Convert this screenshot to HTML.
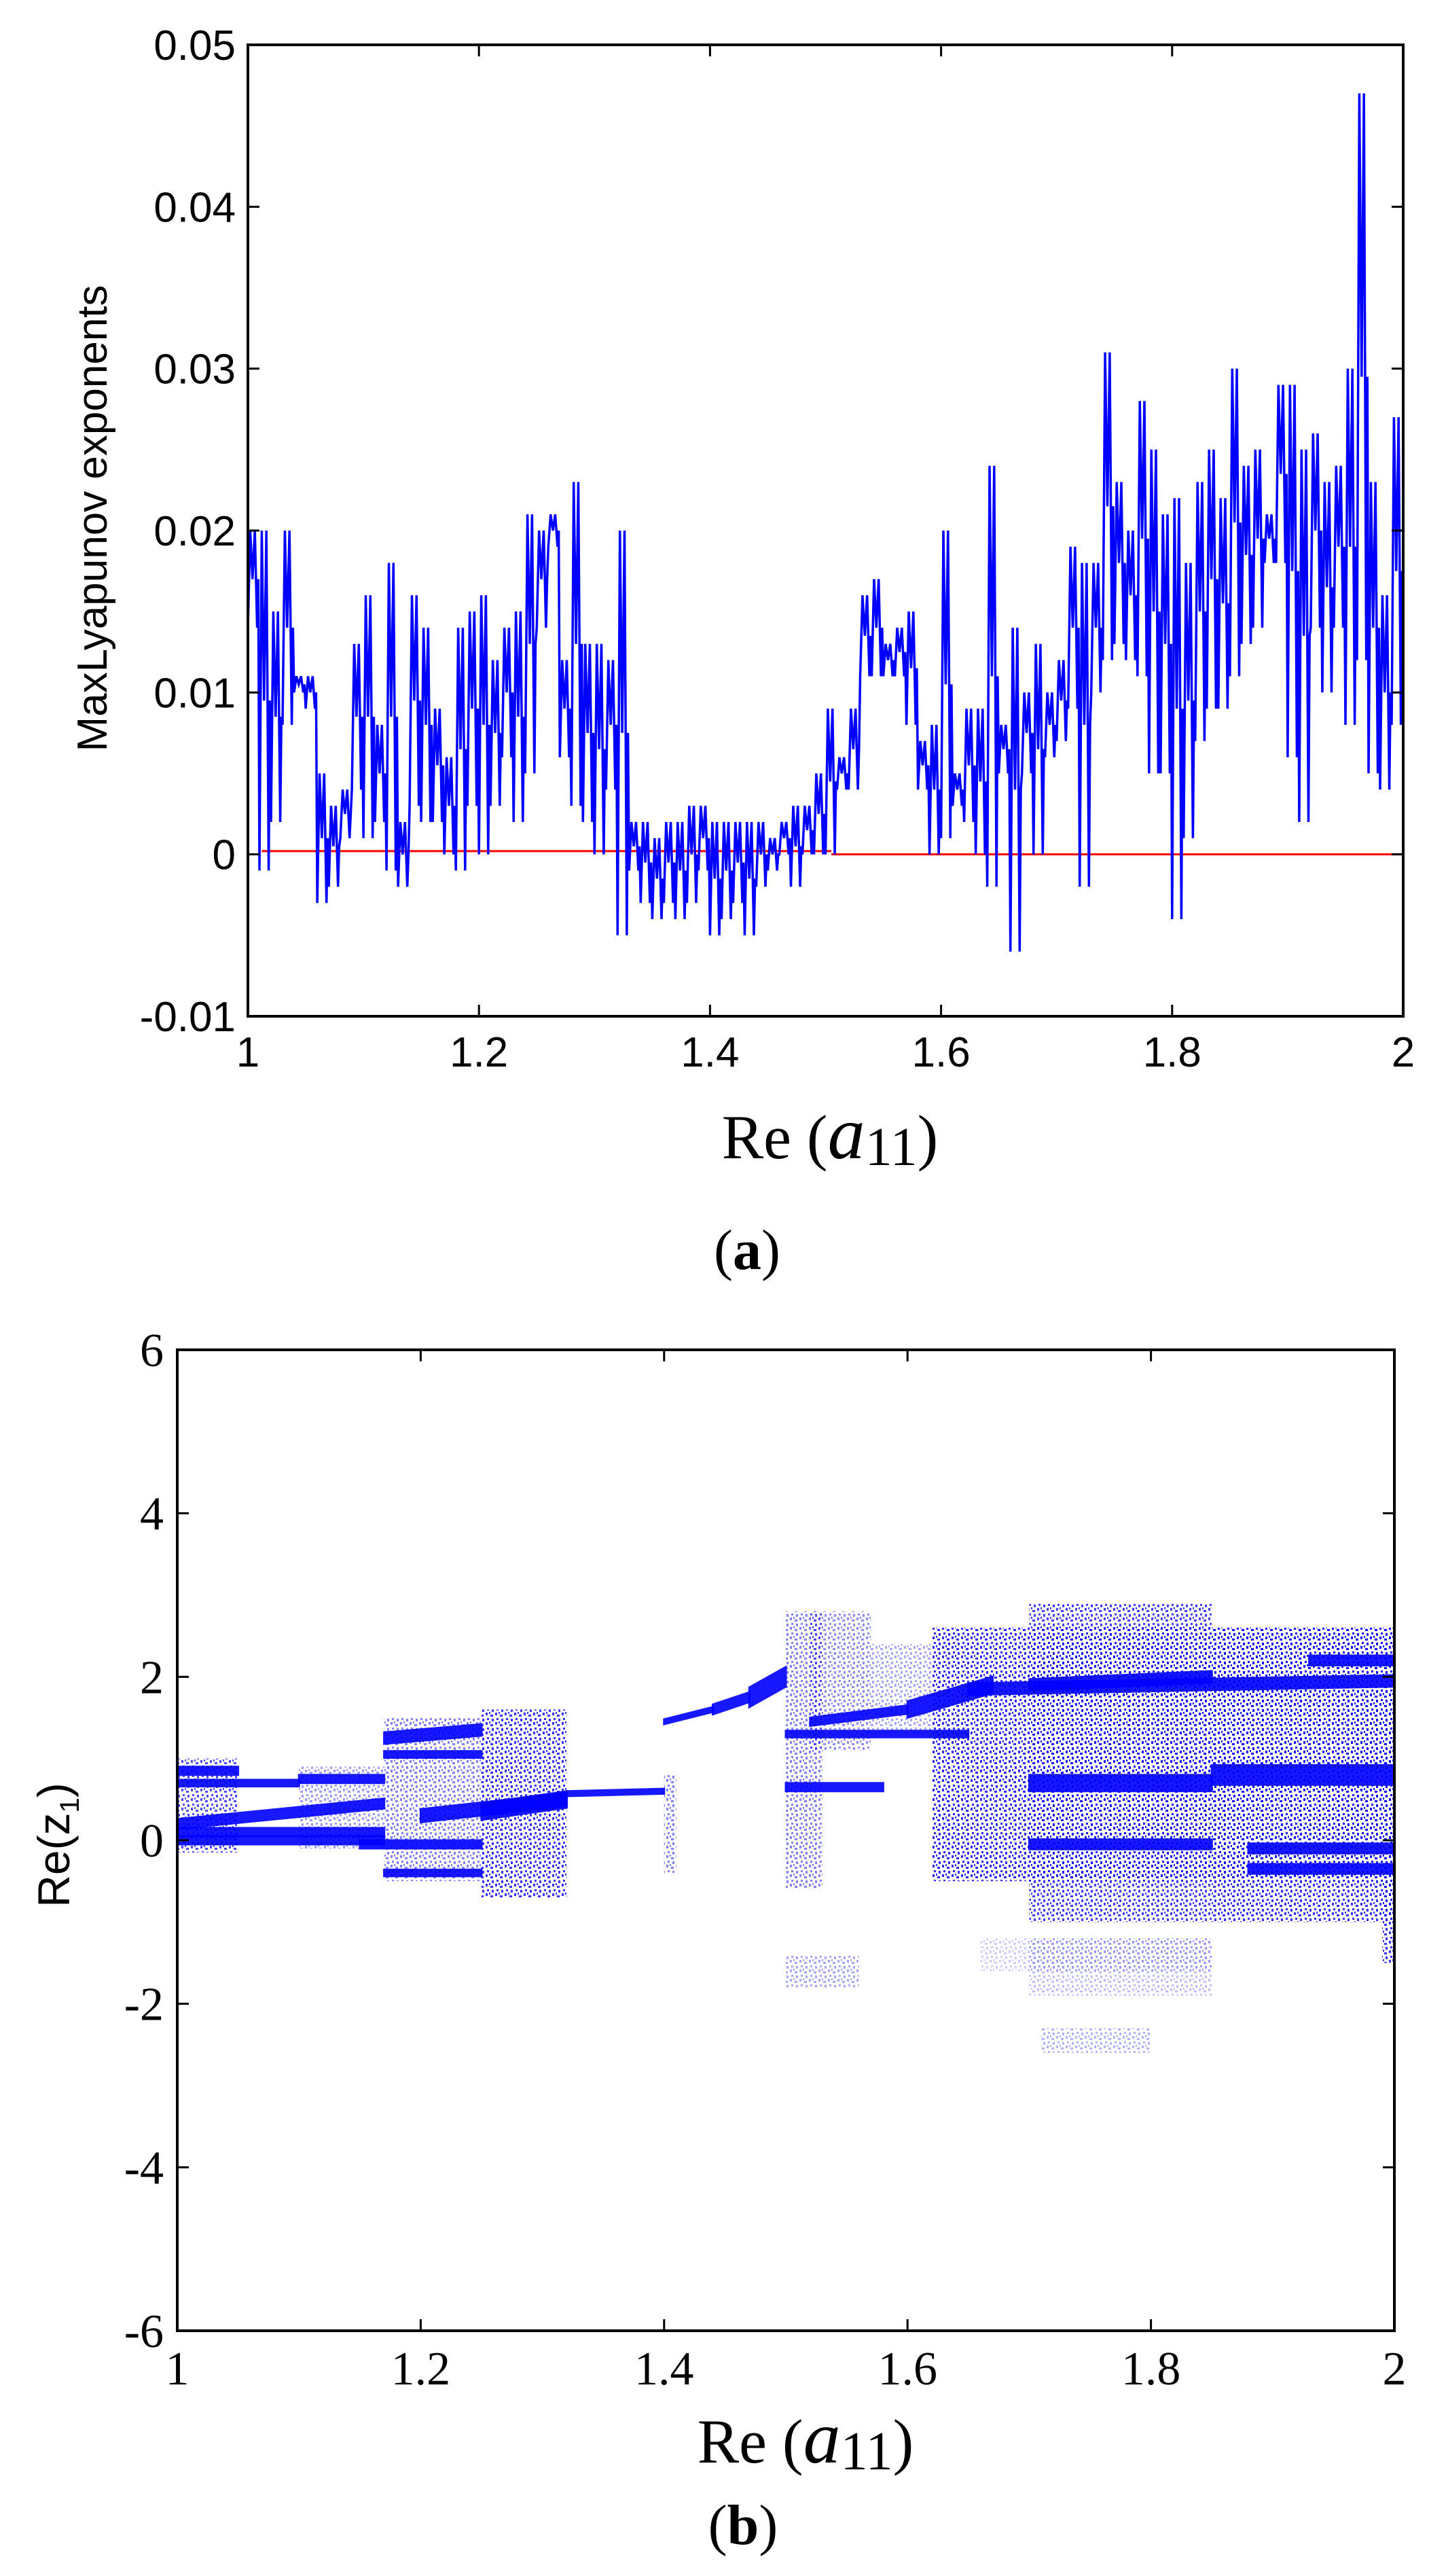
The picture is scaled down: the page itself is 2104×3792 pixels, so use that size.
<!DOCTYPE html>
<html><head><meta charset="utf-8"><style>
html,body{margin:0;padding:0;background:#fff;}
svg{display:block;}
</style></head><body>
<svg id="fig" width="2104" height="3792" viewBox="0 0 2104 3792" xmlns="http://www.w3.org/2000/svg">
<defs>
<pattern id="stip" width="14" height="14" patternUnits="userSpaceOnUse">
<rect x="1" y="1" width="3" height="4" fill="#0000ff"/><rect x="8" y="4" width="4" height="3" fill="#0000ff"/>
<rect x="3" y="9" width="3" height="3" fill="#0000ff"/><rect x="10" y="10" width="3" height="4" fill="#0000ff"/>
<rect x="6" y="0" width="2" height="3" fill="#0000ff"/>
</pattern>
</defs>
<g id="pa"></g>
<g id="pb"></g>
<text x="1100" y="1868" font-family="Liberation Serif, serif" font-size="84" text-anchor="middle">(<tspan font-weight="bold">a</tspan>)</text>
<text x="1094" y="3745" font-family="Liberation Serif, serif" font-size="84" text-anchor="middle">(<tspan font-weight="bold">b</tspan>)</text>
</svg>
<script>
// ---- chart (a) data ----
const aBinStart = 1.0;
const aBinWidth = 0.01;
const aHigh = [20,20,15,20,11,11,5,3,4,13,16,8,18,2,16,14,9,6,14,15,16,12,14,15,21,20,21,12,23,13,13,12,20,2,2,1,2,2,3,3,2,2,2,2,2,1,2,3,3,5,9,6,9,16,17,13,14,15,7,8,20,5,9,9,24,8,14,10,13,10,12,19,18,18,31,23,20,28,25,21,22,18,23,25,22,30,24,25,21,29,29,25,26,23,24,30,47,23,16,27];
const aLow  = [14,-1,2,8,10,9,-3,-2,1,4,1,2,-1,-2,3,2,2,0,-1,3,0,3,6,2,5,14,19,6,3,2,0,4,-5,-1,-3,-4,-3,-4,-3,-1,-5,-4,-3,-5,-2,-1,0,-2,0,0,0,4,4,11,11,11,11,8,4,0,1,3,2,0,-2,5,-6,5,0,6,7,9,-2,10,12,13,12,11,5,5,-4,1,7,9,9,11,13,14,18,18,6,2,14,10,14,8,12,5,4,8];
const aYTicks = [-0.01,0,0.01,0.02,0.03,0.04,0.05];
const aYTickLabels = ["-0.01","0","0.01","0.02","0.03","0.04","0.05"];
const aXTicks = [1,1.2,1.4,1.6,1.8,2];
const aXTickLabels = ["1","1.2","1.4","1.6","1.8","2"];
const aRefX0 = [1.012,1.505];
const aRefX1 = [1.505,2.0];
const aRefY  = [0.0002,0];

// ---- chart (b) data ----
const bYTicks = [-6,-4,-2,0,2,4,6];
const bYTickLabels = ["-6","-4","-2","0","2","4","6"];
const bXTicks = [1,1.2,1.4,1.6,1.8,2];
const bXTickLabels = ["1","1.2","1.4","1.6","1.8","2"];
// stippled attractor regions
const cloudX0 = [1.00,1.10,1.17,1.25,1.50,1.52,1.57,1.62,1.70,1.62,1.70,1.85,1.50,1.66,1.71,1.40,1.99];
const cloudX1 = [1.05,1.17,1.25,1.32,1.53,1.57,1.62,1.70,1.85,2.00,1.85,2.00,1.56,1.85,1.80,1.41,2.00];
const cloudY0 = [-0.15,-0.1,-0.5,-0.7,-0.6,1.1,1.3,-0.5,-1.0,-0.5,-1.9,-1.0,-1.8,-1.6,-2.6,-0.4,-1.5];
const cloudY1 = [1.0,0.9,1.5,1.6,2.8,2.8,2.4,2.6,2.9,2.6,-1.2,2.6,-1.4,-1.2,-2.3,0.8,2.5];
const cloudD  = [0.7,0.4,0.5,0.8,0.5,0.45,0.35,0.45,0.75,0.7,0.25,0.8,0.35,0.2,0.3,0.5,0.8];
// dense branches (x0,x1,y0,y1,half-spread)
const brX0 = [1.00,1.00,1.00,1.00,1.00,1.10,1.15,1.17,1.17,1.17,1.20,1.25,1.32,1.40,1.44,1.47,1.52,1.60,1.50,1.50,1.65,1.70,1.70,1.85,1.88,1.93,1.70,1.88];
const brX1 = [1.05,1.10,1.17,1.17,1.17,1.17,1.25,1.25,1.25,1.25,1.32,1.32,1.40,1.44,1.47,1.50,1.60,1.67,1.58,1.65,2.00,1.85,1.85,2.00,2.00,2.00,1.85,2.00];
const brY0 = [0.85,0.7,0.2,0.1,0.0,0.75,-0.05,1.25,1.05,-0.4,0.3,0.35,0.57,1.45,1.6,1.75,1.45,1.6,0.65,1.3,1.85,0.7,-0.05,0.8,-0.1,2.2,1.9,-0.35];
const brY1 = [0.85,0.7,0.45,0.1,0.0,0.75,-0.05,1.35,1.05,-0.4,0.5,0.5,0.6,1.6,1.75,2.0,1.6,1.9,0.65,1.3,1.95,0.7,-0.05,0.8,-0.1,2.2,2.0,-0.35];
const brS  = [0.05,0.04,0.06,0.05,0.05,0.05,0.05,0.07,0.04,0.04,0.08,0.1,0.03,0.03,0.06,0.12,0.05,0.1,0.05,0.04,0.07,0.1,0.06,0.12,0.06,0.06,0.07,0.06];

const NS = "http://www.w3.org/2000/svg";
function mk(parent, tag, attrs){ const e=document.createElementNS(NS,tag); for(const k in attrs) e.setAttribute(k,attrs[k]); parent.appendChild(e); return e; }

// ===== Chart A =====
(function(){
  const g=document.getElementById('pa');
  const L=365,R=2066,T=66,B=1496;
  const xS=v=>L+(v-1)/(2-1)*(R-L);
  const yS=v=>B-(v+0.01)/0.06*(B-T);
  for(let i=0;i<aRefY.length;i++){
    const ln=mk(g,'line',{x1:xS(aRefX0[i]),x2:xS(aRefX1[i]),y1:yS(aRefY[i]),y2:yS(aRefY[i]),stroke:'#ff0000','stroke-width':3});
    
    
  }
  let pts=[];
  for(let i=0;i<aHigh.length;i++){
    const x0=aBinStart+i*aBinWidth;
    const h=aHigh[i]/1000, l=aLow[i]/1000;
    const m=(h+l)/2;
    pts.push([xS(x0),yS(l)],[xS(x0+aBinWidth*0.2),yS(h)],[xS(x0+aBinWidth*0.4),yS(m)],[xS(x0+aBinWidth*0.6),yS(h)],[xS(x0+aBinWidth*0.8),yS(l)],[xS(x0+aBinWidth*0.9),yS(m)]);
  }
  const pl=mk(g,'polyline',{points:pts.map(p=>p[0].toFixed(1)+','+p[1].toFixed(1)).join(' '),fill:'none',stroke:'#0000ff','stroke-width':3.5,'stroke-linejoin':'miter'});
  
  
  const fr=mk(g,'rect',{x:L,y:T,width:R-L,height:B-T,fill:'none',stroke:'#000','stroke-width':4});
  
  
  aYTicks.forEach((v,i)=>{
    const y=yS(v);
    mk(g,'line',{x1:L,x2:L+17,y1:y,y2:y,stroke:'#000','stroke-width':3});
    mk(g,'line',{x1:R,x2:R-17,y1:y,y2:y,stroke:'#000','stroke-width':3});
    const t=mk(g,'text',{x:L-18,y:y+22,'font-family':'Liberation Sans, sans-serif','font-size':62,'text-anchor':'end'});
    t.textContent=aYTickLabels[i];
    
    
  });
  aXTicks.forEach((v,i)=>{
    const x=xS(v);
    mk(g,'line',{x1:x,x2:x,y1:B,y2:B-17,stroke:'#000','stroke-width':3});
    mk(g,'line',{x1:x,x2:x,y1:T,y2:T+17,stroke:'#000','stroke-width':3});
    const t=mk(g,'text',{x:x,y:1570,'font-family':'Liberation Sans, sans-serif','font-size':62,'text-anchor':'middle'});
    t.textContent=aXTickLabels[i];
    
    
  });
  const yl=mk(g,'text',{x:0,y:0,transform:'translate(157,763) rotate(-90)','font-family':'Liberation Sans, sans-serif','font-size':62,'text-anchor':'middle'});
  yl.textContent='MaxLyapunov exponents';
  
  
  const xl=mk(g,'text',{x:1222,y:1705,'font-family':'Liberation Serif, serif','font-size':92,'text-anchor':'middle'});
  xl.innerHTML='Re (<tspan font-style="italic" font-size="110">a</tspan><tspan font-size="80" dy="10">11</tspan><tspan dy="-10">)</tspan>';
  
  
})();

// ===== Chart B =====
(function(){
  const g=document.getElementById('pb');
  const L=261,R=2053,T=1987,B=3431;
  const xS=v=>L+(v-1)/(2-1)*(R-L);
  const yS=v=>B-(v+6)/12*(B-T);
  for(let i=0;i<cloudX0.length;i++){
    const r=mk(g,'rect',{x:xS(cloudX0[i]),y:yS(cloudY1[i]),width:xS(cloudX1[i])-xS(cloudX0[i]),height:yS(cloudY0[i])-yS(cloudY1[i]),fill:'url(#stip)',opacity:cloudD[i]});
    
    
  }
  for(let i=0;i<brX0.length;i++){
    const x0=xS(brX0[i]),x1=xS(brX1[i]);
    const s=brS[i];
    const p=[[x0,yS(brY0[i]+s)],[x1,yS(brY1[i]+s)],[x1,yS(brY1[i]-s)],[x0,yS(brY0[i]-s)]];
    const pg=mk(g,'polygon',{points:p.map(q=>q[0].toFixed(1)+','+q[1].toFixed(1)).join(' '),fill:'#0000ff',stroke:'#0000ff','stroke-width':3,opacity:0.9});
    
    
  }
  const fr=mk(g,'rect',{x:L,y:T,width:R-L,height:B-T,fill:'none',stroke:'#000','stroke-width':4});
  
  
  bYTicks.forEach((v,i)=>{
    const y=yS(v);
    mk(g,'line',{x1:L,x2:L+17,y1:y,y2:y,stroke:'#000','stroke-width':3});
    mk(g,'line',{x1:R,x2:R-17,y1:y,y2:y,stroke:'#000','stroke-width':3});
    const t=mk(g,'text',{x:L-20,y:y+24,'font-family':'Liberation Serif, serif','font-size':70,'text-anchor':'end'});
    t.textContent=bYTickLabels[i];
    
    
  });
  bXTicks.forEach((v,i)=>{
    const x=xS(v);
    mk(g,'line',{x1:x,x2:x,y1:B,y2:B-17,stroke:'#000','stroke-width':3});
    mk(g,'line',{x1:x,x2:x,y1:T,y2:T+17,stroke:'#000','stroke-width':3});
    const t=mk(g,'text',{x:x,y:3510,'font-family':'Liberation Serif, serif','font-size':70,'text-anchor':'middle'});
    t.textContent=bXTickLabels[i];
    
    
  });
  const yl=mk(g,'text',{x:0,y:0,transform:'translate(102,2716) rotate(-90)','font-family':'Liberation Sans, sans-serif','font-size':66,'text-anchor':'middle'});
  yl.innerHTML='Re(z<tspan font-size="40" dy="14">1</tspan><tspan dy="-14">)</tspan>';
  
  
  const xl=mk(g,'text',{x:1186,y:3625,'font-family':'Liberation Serif, serif','font-size':92,'text-anchor':'middle'});
  xl.innerHTML='Re (<tspan font-style="italic" font-size="110">a</tspan><tspan font-size="80" dy="10">11</tspan><tspan dy="-10">)</tspan>';
  
  
})();
</script>
</body></html>
